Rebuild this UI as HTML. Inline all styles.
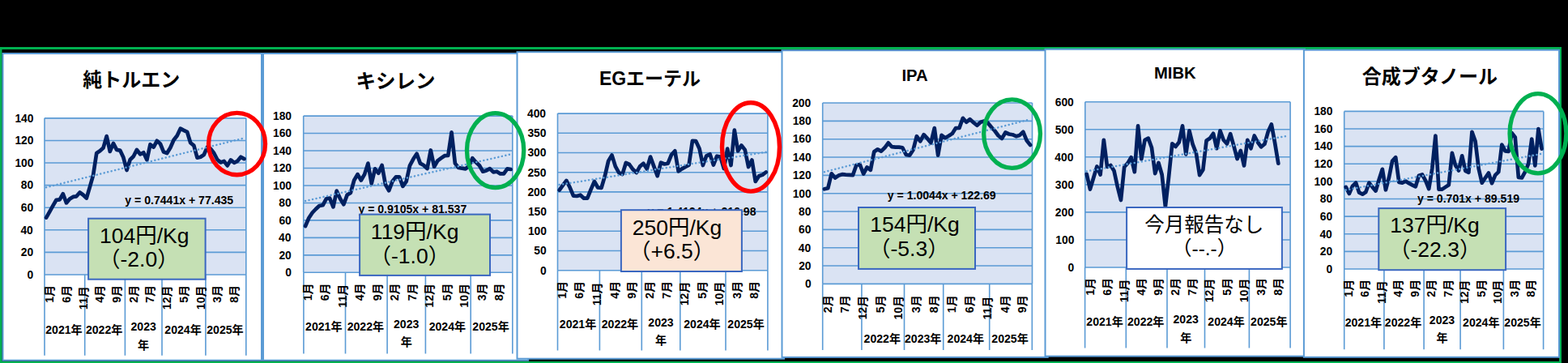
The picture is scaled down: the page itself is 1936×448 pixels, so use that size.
<!DOCTYPE html>
<html><head><meta charset="utf-8"><title>chart</title>
<style>html,body{margin:0;padding:0;background:#000;overflow:hidden;font-family:"Liberation Sans",sans-serif}svg{display:block}
svg text{font-family:"Liberation Sans","Noto Sans CJK JP",sans-serif;font-weight:bold;fill:#000}
svg text.n{font-weight:normal}</style>
</head><body>
<svg width="1936" height="448" viewBox="0 0 1936 448">
<rect width="1936" height="448" fill="#000"/>
<rect x="1" y="59.5" width="1925.5" height="388" fill="none" stroke="#00b050" stroke-width="3"/>
<rect x="3.5" y="66" width="319.5" height="378.7" fill="#fff" stroke="#5b9bd5" stroke-width="2"/>
<rect x="325" y="66" width="327" height="378.7" fill="#fff" stroke="#5b9bd5" stroke-width="2"/>
<text x="102.19" y="107.29" font-size="24">純トルエン</text>
<rect x="55" y="145.85" width="248.8" height="193.15" fill="#dae3f3"/>
<path d="M55 145.85H303.8M55 173.44H303.8M55 201.04H303.8M55 228.63H303.8M55 256.22H303.8M55 283.81H303.8M55 311.41H303.8M55 339H303.8M55 145.85V339M303.8 145.85V339" stroke="#5b9bd5" stroke-width="1.6" fill="none"/>
<path d="M55 339V438.8M104.7 339V438.8M154.4 339V438.8M200 339V438.8M253.9 339V438.8M303.8 339V438.8" stroke="#5b9bd5" stroke-width="1.6" fill="none"/>
<text x="18.4" y="150.65" font-size="13.82">140</text>
<text x="18.4" y="178.24" font-size="13.82">120</text>
<text x="18.4" y="205.84" font-size="13.82">100</text>
<text x="25.77" y="233.43" font-size="13.82">80</text>
<text x="25.82" y="261.02" font-size="13.82">60</text>
<text x="25.42" y="288.61" font-size="13.82">40</text>
<text x="25.84" y="316.21" font-size="13.82">20</text>
<text x="33.59" y="343.8" font-size="13.82">0</text>
<polyline points="57.1,268.6 61.24,261.3 65.38,253.9 69.53,246.8 73.67,246.4 77.81,239.3 81.95,250.4 86.09,245.5 90.24,242.9 94.38,242.3 98.52,237.5 102.66,240.5 106.8,244.6 110.95,230.7 115.09,216.1 119.23,189 123.37,186.3 127.51,182.6 131.66,168.1 135.8,186.9 139.94,176.9 144.08,184.9 148.22,185.6 152.37,194.3 156.51,210 160.65,197 164.79,193 168.93,184.9 173.08,190.3 177.22,188.3 181.36,197.4 185.5,178.2 189.64,181.6 193.79,173.8 197.93,177.5 202.07,187.6 206.21,189 210.35,182.2 214.5,172.8 218.64,167.5 222.78,158.7 226.92,160.8 231.06,162.8 235.21,176.2 239.35,179.6 243.49,194.7 247.63,193.7 251.77,191 255.92,181.6 260.06,183.6 264.2,189 268.34,197 272.48,200.4 276.63,199 280.77,204.4 284.91,197.4 289.05,200.8 293.19,198.8 297.34,193.7 301.48,196.1" fill="none" stroke="#002060" stroke-width="4.7" stroke-linejoin="round" stroke-linecap="round"/>
<path d="M57.1 231.2L301.5 170.4" stroke="#5b9bd5" stroke-width="2.5" stroke-dasharray="0.01 4.6" stroke-linecap="round" fill="none"/>
<text x="154.3" y="251.9" font-size="14.08">y = 0.7441x + 77.435</text>
<text transform="translate(66.2 373.73) rotate(-90)" font-size="14.08">1月</text>
<text transform="translate(86.9 373.73) rotate(-90)" font-size="14.08">6月</text>
<text transform="translate(107.6 382.16) rotate(-90)" font-size="14.08">11月</text>
<text transform="translate(128.3 373.73) rotate(-90)" font-size="14.08">4月</text>
<text transform="translate(149 373.73) rotate(-90)" font-size="14.08">9月</text>
<text transform="translate(169.7 373.73) rotate(-90)" font-size="14.08">2月</text>
<text transform="translate(190.4 373.73) rotate(-90)" font-size="14.08">7月</text>
<text transform="translate(211.1 382.16) rotate(-90)" font-size="14.08">12月</text>
<text transform="translate(231.8 373.73) rotate(-90)" font-size="14.08">5月</text>
<text transform="translate(252.5 382.16) rotate(-90)" font-size="14.08">10月</text>
<text transform="translate(273.2 373.73) rotate(-90)" font-size="14.08">3月</text>
<text transform="translate(293.9 373.73) rotate(-90)" font-size="14.08">8月</text>
<text x="56.22" y="411.5" font-size="14.08">2021年</text>
<text x="105.92" y="411.5" font-size="14.08">2022年</text>
<text x="161.47" y="408.1" font-size="14.08">2023</text>
<text x="170.12" y="430.7" font-size="14.08">年</text>
<text x="203.32" y="411.5" font-size="14.08">2024年</text>
<text x="255.22" y="411.5" font-size="14.08">2025年</text>
<rect x="109.1" y="269.7" width="144.5" height="75" fill="#c5e0b4" stroke="#3a67c0" stroke-width="2"/>
<text class="n" x="123.06" y="299.8" font-size="26.5">104円/Kg</text>
<text class="n" x="122" y="329.3" font-size="26.5">（-2.0）</text>
<text x="439.48" y="108.68" font-size="24.5">キシレン</text>
<rect x="374.7" y="143.1" width="258.1" height="193.2" fill="#dae3f3"/>
<path d="M374.7 143.1H632.8M374.7 164.57H632.8M374.7 186.03H632.8M374.7 207.5H632.8M374.7 228.97H632.8M374.7 250.43H632.8M374.7 271.9H632.8M374.7 293.37H632.8M374.7 314.83H632.8M374.7 336.3H632.8M374.7 143.1V336.3M632.8 143.1V336.3" stroke="#5b9bd5" stroke-width="1.6" fill="none"/>
<path d="M374.9 336.3V436.5M426.5 336.3V436.5M478.1 336.3V436.5M525.4 336.3V436.5M581.2 336.3V436.5M632.8 336.3V436.5" stroke="#5b9bd5" stroke-width="1.6" fill="none"/>
<text x="337" y="147.9" font-size="13.82">180</text>
<text x="337" y="169.37" font-size="13.82">160</text>
<text x="337" y="190.83" font-size="13.82">140</text>
<text x="337" y="212.3" font-size="13.82">120</text>
<text x="337" y="233.77" font-size="13.82">100</text>
<text x="344.37" y="255.23" font-size="13.82">80</text>
<text x="344.42" y="276.7" font-size="13.82">60</text>
<text x="344.02" y="298.17" font-size="13.82">40</text>
<text x="344.44" y="319.63" font-size="13.82">20</text>
<text x="352.19" y="341.1" font-size="13.82">0</text>
<polyline points="377.05,279 381.35,269 385.65,262.5 389.94,258 394.24,254 398.54,253.3 402.84,245.3 407.14,244.6 411.43,255.4 415.73,235.6 420.03,245.3 424.33,252.3 428.63,240.6 432.92,237.9 437.22,222.5 441.52,215.1 445.82,222.5 450.12,215.1 454.41,201.6 458.71,226.5 463.01,208.4 467.31,213.7 471.61,204 475.9,227.8 480.2,235.2 484.5,223.8 488.8,218.4 493.1,218.4 497.39,229.8 501.69,223.8 505.99,204.3 510.29,196.3 514.59,189.8 518.88,201.6 523.18,204 527.48,208.1 531.78,185.5 536.08,205.7 540.37,198.3 544.67,195.2 548.97,192.2 553.27,192 557.57,163.4 561.86,201.6 566.16,207 570.46,207.7 574.76,208.3 579.06,205 583.35,195.2 587.65,200.3 591.95,204.3 596.25,211.7 600.55,210.4 604.84,208.1 609.14,212.4 613.44,211.7 617.74,214.4 622.04,214.4 626.33,208.3 630.63,209" fill="none" stroke="#002060" stroke-width="4.7" stroke-linejoin="round" stroke-linecap="round"/>
<path d="M377.05 248L630.6 190.4" stroke="#5b9bd5" stroke-width="2.5" stroke-dasharray="0.01 4.6" stroke-linecap="round" fill="none"/>
<text x="442.4" y="262.5" font-size="14.08">y = 0.9105x + 81.537</text>
<text transform="translate(384.5 371.23) rotate(-90)" font-size="14.08">1月</text>
<text transform="translate(406 371.23) rotate(-90)" font-size="14.08">6月</text>
<text transform="translate(427.5 379.66) rotate(-90)" font-size="14.08">11月</text>
<text transform="translate(449 371.23) rotate(-90)" font-size="14.08">4月</text>
<text transform="translate(470.5 371.23) rotate(-90)" font-size="14.08">9月</text>
<text transform="translate(492 371.23) rotate(-90)" font-size="14.08">2月</text>
<text transform="translate(513.5 371.23) rotate(-90)" font-size="14.08">7月</text>
<text transform="translate(535 379.66) rotate(-90)" font-size="14.08">12月</text>
<text transform="translate(556.5 371.23) rotate(-90)" font-size="14.08">5月</text>
<text transform="translate(578 379.66) rotate(-90)" font-size="14.08">10月</text>
<text transform="translate(599.5 371.23) rotate(-90)" font-size="14.08">3月</text>
<text transform="translate(621 371.23) rotate(-90)" font-size="14.08">8月</text>
<text x="377.07" y="407.8" font-size="14.08">2021年</text>
<text x="428.67" y="407.8" font-size="14.08">2022年</text>
<text x="486.02" y="404.7" font-size="14.08">2023</text>
<text x="494.67" y="427.3" font-size="14.08">年</text>
<text x="529.67" y="407.8" font-size="14.08">2024年</text>
<text x="583.37" y="407.8" font-size="14.08">2025年</text>
<rect x="444.1" y="264.6" width="160.9" height="75.3" fill="#c5e0b4" stroke="#3a67c0" stroke-width="2"/>
<text class="n" x="457.87" y="294.7" font-size="26.5">119円/Kg</text>
<text class="n" x="456.5" y="324.7" font-size="26.5">（-1.0）</text>
<rect x="638.5" y="64.2" width="329.5" height="378.5" fill="#fff" stroke="#5b9bd5" stroke-width="2"/>
<text x="739.9" y="105.3" font-size="23">EGエーテル</text>
<rect x="688.5" y="140.1" width="259.4" height="193.6" fill="#dae3f3"/>
<path d="M688.5 140.1H947.9M688.5 164.3H947.9M688.5 188.5H947.9M688.5 212.7H947.9M688.5 236.9H947.9M688.5 261.1H947.9M688.5 285.3H947.9M688.5 309.5H947.9M688.5 333.7H947.9M688.5 140.1V333.7M947.9 140.1V333.7" stroke="#5b9bd5" stroke-width="1.6" fill="none"/>
<path d="M688.5 333.7V432.5M740.4 333.7V432.5M792.3 333.7V432.5M839.8 333.7V432.5M896 333.7V432.5M947.9 333.7V432.5" stroke="#5b9bd5" stroke-width="1.6" fill="none"/>
<text x="650.96" y="144.9" font-size="13.82">400</text>
<text x="651.43" y="169.1" font-size="13.82">350</text>
<text x="651.43" y="193.3" font-size="13.82">300</text>
<text x="651.38" y="217.5" font-size="13.82">250</text>
<text x="651.38" y="241.7" font-size="13.82">200</text>
<text x="651.9" y="265.9" font-size="13.82">150</text>
<text x="651.9" y="290.1" font-size="13.82">100</text>
<text x="659.26" y="314.3" font-size="13.82">50</text>
<text x="667.09" y="338.5" font-size="13.82">0</text>
<polyline points="690.66,234.6 694.98,228.6 699.31,222.9 703.63,231.3 707.95,241.7 712.27,242 716.6,240.7 720.92,244.7 725.24,244.7 729.57,233.9 733.89,223.9 738.21,231.5 742.54,231.9 746.86,217.2 751.18,198.6 755.5,191.4 759.83,205.4 764.15,213.1 768.47,215.1 772.8,201 777.12,203 781.44,209.1 785.77,213.1 790.09,205.4 794.41,201.7 798.74,208.5 803.06,193.6 807.38,205.4 811.7,217.2 816.03,200.7 820.35,202.5 824.67,201.7 829,191 833.32,186.3 837.64,211.4 841.96,208.4 846.29,206 850.61,203.7 854.93,173.9 859.26,174.2 863.58,183.6 867.9,204 872.23,192.3 876.55,190.3 880.87,203.6 885.19,192.7 889.52,193.6 893.84,208 898.16,183.6 902.49,204 906.81,160.7 911.13,186.3 915.46,179.5 919.78,184.9 924.1,206 928.42,197.5 932.75,223.9 937.07,217.2 941.39,215.8 945.72,212.5" fill="none" stroke="#002060" stroke-width="4.7" stroke-linejoin="round" stroke-linecap="round"/>
<path d="M690.66 228L945.7 187.7" stroke="#5b9bd5" stroke-width="2.5" stroke-dasharray="0.01 4.6" stroke-linecap="round" fill="none"/>
<text x="799.6" y="265.9" font-size="14.08">y = 1.4124x + 216.98</text>
<text transform="translate(698.8 368.83) rotate(-90)" font-size="14.08">1月</text>
<text transform="translate(720.4 368.83) rotate(-90)" font-size="14.08">6月</text>
<text transform="translate(742 377.26) rotate(-90)" font-size="14.08">11月</text>
<text transform="translate(763.6 368.83) rotate(-90)" font-size="14.08">4月</text>
<text transform="translate(785.2 368.83) rotate(-90)" font-size="14.08">9月</text>
<text transform="translate(806.8 368.83) rotate(-90)" font-size="14.08">2月</text>
<text transform="translate(828.4 368.83) rotate(-90)" font-size="14.08">7月</text>
<text transform="translate(850 377.26) rotate(-90)" font-size="14.08">12月</text>
<text transform="translate(871.6 368.83) rotate(-90)" font-size="14.08">5月</text>
<text transform="translate(893.2 377.26) rotate(-90)" font-size="14.08">10月</text>
<text transform="translate(914.8 368.83) rotate(-90)" font-size="14.08">3月</text>
<text transform="translate(936.4 368.83) rotate(-90)" font-size="14.08">8月</text>
<text x="690.82" y="405.2" font-size="14.08">2021年</text>
<text x="742.72" y="405.2" font-size="14.08">2022年</text>
<text x="800.32" y="402.7" font-size="14.08">2023</text>
<text x="808.97" y="425.3" font-size="14.08">年</text>
<text x="844.27" y="405.2" font-size="14.08">2024年</text>
<text x="898.32" y="405.2" font-size="14.08">2025年</text>
<rect x="766.9" y="259.2" width="149" height="75.8" fill="#fbe5d6" stroke="#3a67c0" stroke-width="2"/>
<text class="n" x="780.71" y="289.5" font-size="26.5">250円/Kg</text>
<text class="n" x="777" y="318.8" font-size="26.5">（+6.5）</text>
<rect x="965.5" y="62.2" width="328.2" height="378.7" fill="#fff" stroke="#5b9bd5" stroke-width="2"/>
<text x="1113.5" y="99.6" font-size="20.24">IPA</text>
<rect x="1015.7" y="127" width="258.8" height="223.4" fill="#dae3f3"/>
<path d="M1015.7 127H1274.5M1015.7 149.34H1274.5M1015.7 171.68H1274.5M1015.7 194.02H1274.5M1015.7 216.36H1274.5M1015.7 238.7H1274.5M1015.7 261.04H1274.5M1015.7 283.38H1274.5M1015.7 305.72H1274.5M1015.7 328.06H1274.5M1015.7 350.4H1274.5M1015.7 127V350.4M1274.5 127V350.4" stroke="#5b9bd5" stroke-width="1.6" fill="none"/>
<path d="M1015.7 350.4V432M1063.9 350.4V432M1116.5 350.4V432M1164.7 350.4V432M1221.7 350.4V432M1274.3 350.4V432" stroke="#5b9bd5" stroke-width="1.6" fill="none"/>
<text x="978.18" y="131.8" font-size="13.82">200</text>
<text x="978.7" y="154.14" font-size="13.82">180</text>
<text x="978.7" y="176.48" font-size="13.82">160</text>
<text x="978.7" y="198.82" font-size="13.82">140</text>
<text x="978.7" y="221.16" font-size="13.82">120</text>
<text x="978.7" y="243.5" font-size="13.82">100</text>
<text x="986.07" y="265.84" font-size="13.82">80</text>
<text x="986.12" y="288.18" font-size="13.82">60</text>
<text x="985.72" y="310.52" font-size="13.82">40</text>
<text x="986.14" y="332.86" font-size="13.82">20</text>
<text x="993.89" y="355.2" font-size="13.82">0</text>
<polyline points="1017.9,233.3 1022.28,232.3 1026.67,214.3 1031.05,219.6 1035.43,216.6 1039.82,215.2 1044.2,215.6 1048.58,215.9 1052.96,216.2 1057.35,203.8 1061.73,203.1 1066.11,214.5 1070.5,206.5 1074.88,209.8 1079.26,187.3 1083.64,184.3 1088.03,186.6 1092.41,182.3 1096.79,176.3 1101.18,181.2 1105.56,181.6 1109.94,181.6 1114.33,182.3 1118.71,191 1123.09,191.7 1127.47,185 1131.86,168.2 1136.24,174.3 1140.62,166.2 1145.01,170.9 1149.39,176.3 1153.77,158.1 1158.16,191.7 1162.54,166.9 1166.92,170.2 1171.31,167.8 1175.69,164.9 1180.07,158.1 1184.45,157.9 1188.84,145.8 1193.22,150.8 1197.6,147.1 1201.99,151.2 1206.37,154.8 1210.75,150.8 1215.13,149.4 1219.52,151.4 1223.9,156.8 1228.28,161.5 1232.67,167.5 1237.05,170.9 1241.43,163.5 1245.82,165.5 1250.2,166.2 1254.58,168.2 1258.96,166.9 1263.35,162.8 1267.73,173.6 1272.11,179" fill="none" stroke="#002060" stroke-width="4.7" stroke-linejoin="round" stroke-linecap="round"/>
<path d="M1017.9 212.2L1272.1 147.2" stroke="#5b9bd5" stroke-width="2.5" stroke-dasharray="0.01 4.6" stroke-linecap="round" fill="none"/>
<text x="1095.8" y="246.2" font-size="14.08">y = 1.0044x + 122.69</text>
<text transform="translate(1026.5 386.13) rotate(-90)" font-size="14.08">2月</text>
<text transform="translate(1048.4 386.13) rotate(-90)" font-size="14.08">7月</text>
<text transform="translate(1070.3 394.56) rotate(-90)" font-size="14.08">12月</text>
<text transform="translate(1092.2 386.13) rotate(-90)" font-size="14.08">5月</text>
<text transform="translate(1114.1 394.56) rotate(-90)" font-size="14.08">10月</text>
<text transform="translate(1136 386.13) rotate(-90)" font-size="14.08">3月</text>
<text transform="translate(1157.9 386.13) rotate(-90)" font-size="14.08">8月</text>
<text transform="translate(1179.8 386.13) rotate(-90)" font-size="14.08">1月</text>
<text transform="translate(1201.7 386.13) rotate(-90)" font-size="14.08">6月</text>
<text transform="translate(1223.6 394.56) rotate(-90)" font-size="14.08">11月</text>
<text transform="translate(1245.5 386.13) rotate(-90)" font-size="14.08">4月</text>
<text transform="translate(1267.4 386.13) rotate(-90)" font-size="14.08">9月</text>
<text x="1066.57" y="423.1" font-size="14.08">2022年</text>
<text x="1116.97" y="423.1" font-size="14.08">2023年</text>
<text x="1169.57" y="423.1" font-size="14.08">2024年</text>
<text x="1224.37" y="423.1" font-size="14.08">2025年</text>
<rect x="1060" y="256" width="144" height="75.9" fill="#c5e0b4" stroke="#3a67c0" stroke-width="2"/>
<text class="n" x="1074.28" y="286" font-size="26.5">154円/Kg</text>
<text class="n" x="1073" y="316.1" font-size="26.5">（-5.3）</text>
<rect x="1290.5" y="60.8" width="320.5" height="378.8" fill="#fff" stroke="#5b9bd5" stroke-width="2"/>
<text x="1425" y="97" font-size="20.24">MIBK</text>
<rect x="1339.8" y="125.7" width="253.3" height="204.3" fill="#dae3f3"/>
<path d="M1339.8 125.7H1593.1M1339.8 159.75H1593.1M1339.8 193.8H1593.1M1339.8 227.85H1593.1M1339.8 261.9H1593.1M1339.8 295.95H1593.1M1339.8 330H1593.1M1339.8 125.7V330M1593.1 125.7V330" stroke="#5b9bd5" stroke-width="1.6" fill="none"/>
<path d="M1339.6 330V429.6M1390.3 330V429.6M1441 330V429.6M1487.5 330V429.6M1542.4 330V429.6M1593.1 330V429.6" stroke="#5b9bd5" stroke-width="1.6" fill="none"/>
<text x="1302.76" y="130.5" font-size="13.82">600</text>
<text x="1302.7" y="164.55" font-size="13.82">500</text>
<text x="1302.36" y="198.6" font-size="13.82">400</text>
<text x="1302.83" y="232.65" font-size="13.82">300</text>
<text x="1302.78" y="266.7" font-size="13.82">200</text>
<text x="1303.3" y="300.75" font-size="13.82">100</text>
<text x="1318.49" y="334.8" font-size="13.82">0</text>
<polyline points="1341.7,214.8 1345.92,233.6 1350.15,219.5 1354.38,205.4 1358.6,215.5 1362.83,172.8 1367.05,206 1371.28,204 1375.5,210.8 1379.73,230.2 1383.95,247 1388.17,206 1392.4,201.4 1396.62,194.3 1400.85,212.1 1405.08,155.4 1409.3,196.3 1413.53,172.8 1417.75,170.6 1421.98,182.2 1426.2,214.1 1430.42,201 1434.65,215.5 1438.88,255 1443.1,218 1447.33,177.3 1451.55,180.9 1455.78,175.5 1460,155.4 1464.23,190.3 1468.45,161.4 1472.67,178.2 1476.9,189 1481.12,216.1 1485.35,209.4 1489.58,173.5 1493.8,170.8 1498.03,164.8 1502.25,183.2 1506.47,161.4 1510.7,172.8 1514.92,177.5 1519.15,165.2 1523.38,180.2 1527.6,196.1 1531.83,185.9 1536.05,204.4 1540.28,172.8 1544.5,183.2 1548.72,167.5 1552.95,175.5 1557.17,181.3 1561.4,177.8 1565.62,162.8 1569.85,153.4 1574.08,176.2 1578.3,201.7" fill="none" stroke="#002060" stroke-width="4.7" stroke-linejoin="round" stroke-linecap="round"/>
<path d="M1341.7 211.4L1591 167.5" stroke="#5b9bd5" stroke-width="2.5" stroke-dasharray="0.01 4.6" stroke-linecap="round" fill="none"/>
<text transform="translate(1351.1 364.83) rotate(-90)" font-size="14.08">1月</text>
<text transform="translate(1372.15 364.83) rotate(-90)" font-size="14.08">6月</text>
<text transform="translate(1393.2 373.26) rotate(-90)" font-size="14.08">11月</text>
<text transform="translate(1414.25 364.83) rotate(-90)" font-size="14.08">4月</text>
<text transform="translate(1435.3 364.83) rotate(-90)" font-size="14.08">9月</text>
<text transform="translate(1456.35 364.83) rotate(-90)" font-size="14.08">2月</text>
<text transform="translate(1477.4 364.83) rotate(-90)" font-size="14.08">7月</text>
<text transform="translate(1498.45 373.26) rotate(-90)" font-size="14.08">12月</text>
<text transform="translate(1519.5 364.83) rotate(-90)" font-size="14.08">5月</text>
<text transform="translate(1540.55 373.26) rotate(-90)" font-size="14.08">10月</text>
<text transform="translate(1561.6 364.83) rotate(-90)" font-size="14.08">3月</text>
<text transform="translate(1582.65 364.83) rotate(-90)" font-size="14.08">8月</text>
<text x="1341.32" y="402.3" font-size="14.08">2021年</text>
<text x="1392.02" y="402.3" font-size="14.08">2022年</text>
<text x="1448.52" y="398.9" font-size="14.08">2023</text>
<text x="1457.17" y="421.5" font-size="14.08">年</text>
<text x="1491.32" y="402.3" font-size="14.08">2024年</text>
<text x="1544.12" y="402.3" font-size="14.08">2025年</text>
<rect x="1391.1" y="256" width="191.8" height="75.9" fill="#fff" stroke="#3a67c0" stroke-width="2"/>
<text class="n" x="1413.36" y="286" font-size="24.5">今月報告なし</text>
<text class="n" x="1447" y="314.7" font-size="24.5">（--.-）</text>
<rect x="1609.9" y="61.7" width="315.1" height="379.1" fill="#fff" stroke="#5b9bd5" stroke-width="2"/>
<text x="1681.72" y="103.36" font-size="24">合成ブタノール</text>
<rect x="1659.7" y="137.4" width="246.1" height="194.6" fill="#dae3f3"/>
<path d="M1659.7 137.4H1905.8M1659.7 159.02H1905.8M1659.7 180.64H1905.8M1659.7 202.27H1905.8M1659.7 223.89H1905.8M1659.7 245.51H1905.8M1659.7 267.13H1905.8M1659.7 288.76H1905.8M1659.7 310.38H1905.8M1659.7 332H1905.8M1659.7 137.4V332M1905.8 137.4V332" stroke="#5b9bd5" stroke-width="1.6" fill="none"/>
<path d="M1659.7 332V431.3M1708.9 332V431.3M1758.1 332V431.3M1803.1 332V431.3M1856.4 332V431.3M1905.6 332V431.3" stroke="#5b9bd5" stroke-width="1.6" fill="none"/>
<text x="1622.4" y="142.2" font-size="13.82">180</text>
<text x="1622.4" y="163.82" font-size="13.82">160</text>
<text x="1622.4" y="185.44" font-size="13.82">140</text>
<text x="1622.4" y="207.07" font-size="13.82">120</text>
<text x="1622.4" y="228.69" font-size="13.82">100</text>
<text x="1629.77" y="250.31" font-size="13.82">80</text>
<text x="1629.82" y="271.93" font-size="13.82">60</text>
<text x="1629.42" y="293.56" font-size="13.82">40</text>
<text x="1629.84" y="315.18" font-size="13.82">20</text>
<text x="1637.59" y="336.8" font-size="13.82">0</text>
<polyline points="1661.75,230.9 1665.85,239 1669.95,229.6 1674.04,225.6 1678.14,237.7 1682.24,239.7 1686.34,237 1690.44,225.6 1694.53,230.9 1698.63,235.6 1702.73,221.5 1706.83,208.8 1710.93,234.3 1715.02,218.9 1719.12,198.5 1723.22,194.2 1727.32,224.9 1731.42,225.6 1735.51,223.6 1739.61,226.2 1743.71,228.3 1747.81,230.3 1751.91,216.8 1756,215.5 1760.1,222.9 1764.2,233 1768.3,208.1 1772.4,167.5 1776.49,233.6 1780.59,233.6 1784.69,230.9 1788.79,228.3 1792.89,188.9 1796.98,204 1801.08,210.5 1805.18,192.3 1809.28,210.8 1813.38,212.8 1817.47,162.8 1821.57,174.2 1825.67,208 1829.77,225.6 1833.87,219.5 1837.96,213.5 1842.06,226.2 1846.16,216.2 1850.26,212.1 1854.36,178.5 1858.45,186.3 1862.55,186.9 1866.65,164.1 1870.75,169.5 1874.85,218.9 1878.94,219.5 1883.04,212.1 1887.14,202 1891.24,171.5 1895.34,204.4 1899.43,159.1 1903.53,183.6" fill="none" stroke="#002060" stroke-width="4.7" stroke-linejoin="round" stroke-linecap="round"/>
<path d="M1661.75 234.5L1903.5 189.8" stroke="#5b9bd5" stroke-width="2.5" stroke-dasharray="0.01 4.6" stroke-linecap="round" fill="none"/>
<text x="1750" y="249.8" font-size="14.08">y = 0.701x + 89.519</text>
<text transform="translate(1669.6 366.63) rotate(-90)" font-size="14.08">1月</text>
<text transform="translate(1690.1 366.63) rotate(-90)" font-size="14.08">6月</text>
<text transform="translate(1710.6 375.06) rotate(-90)" font-size="14.08">11月</text>
<text transform="translate(1731.1 366.63) rotate(-90)" font-size="14.08">4月</text>
<text transform="translate(1751.6 366.63) rotate(-90)" font-size="14.08">9月</text>
<text transform="translate(1772.1 366.63) rotate(-90)" font-size="14.08">2月</text>
<text transform="translate(1792.6 366.63) rotate(-90)" font-size="14.08">7月</text>
<text transform="translate(1813.1 375.06) rotate(-90)" font-size="14.08">12月</text>
<text transform="translate(1833.6 366.63) rotate(-90)" font-size="14.08">5月</text>
<text transform="translate(1854.1 375.06) rotate(-90)" font-size="14.08">10月</text>
<text transform="translate(1874.6 366.63) rotate(-90)" font-size="14.08">3月</text>
<text transform="translate(1895.1 366.63) rotate(-90)" font-size="14.08">8月</text>
<text x="1660.67" y="402.7" font-size="14.08">2021年</text>
<text x="1709.87" y="402.7" font-size="14.08">2022年</text>
<text x="1764.87" y="399.6" font-size="14.08">2023</text>
<text x="1773.52" y="422.2" font-size="14.08">年</text>
<text x="1806.12" y="402.7" font-size="14.08">2024年</text>
<text x="1857.37" y="402.7" font-size="14.08">2025年</text>
<rect x="1702.3" y="257.1" width="156.8" height="76.1" fill="#c5e0b4" stroke="#3a67c0" stroke-width="2"/>
<text class="n" x="1716.28" y="286.8" font-size="26.5">137円/Kg</text>
<text class="n" x="1715" y="317" font-size="26.5">（-22.3）</text>
<ellipse cx="292.55" cy="177.55" rx="35" ry="38.2" fill="none" stroke="#ff0000" stroke-width="5.3"/>
<ellipse cx="611.6" cy="185.6" rx="35.15" ry="46.05" fill="none" stroke="#00b050" stroke-width="5.3"/>
<ellipse cx="927" cy="181.4" rx="35.5" ry="54.7" fill="none" stroke="#ff0000" stroke-width="5.4"/>
<ellipse cx="1249.55" cy="165.1" rx="34.9" ry="42.25" fill="none" stroke="#00b050" stroke-width="5.3"/>
<ellipse cx="1898.95" cy="164.7" rx="34.9" ry="49.15" fill="none" stroke="#00b050" stroke-width="5.3"/>
</svg>
</body></html>
